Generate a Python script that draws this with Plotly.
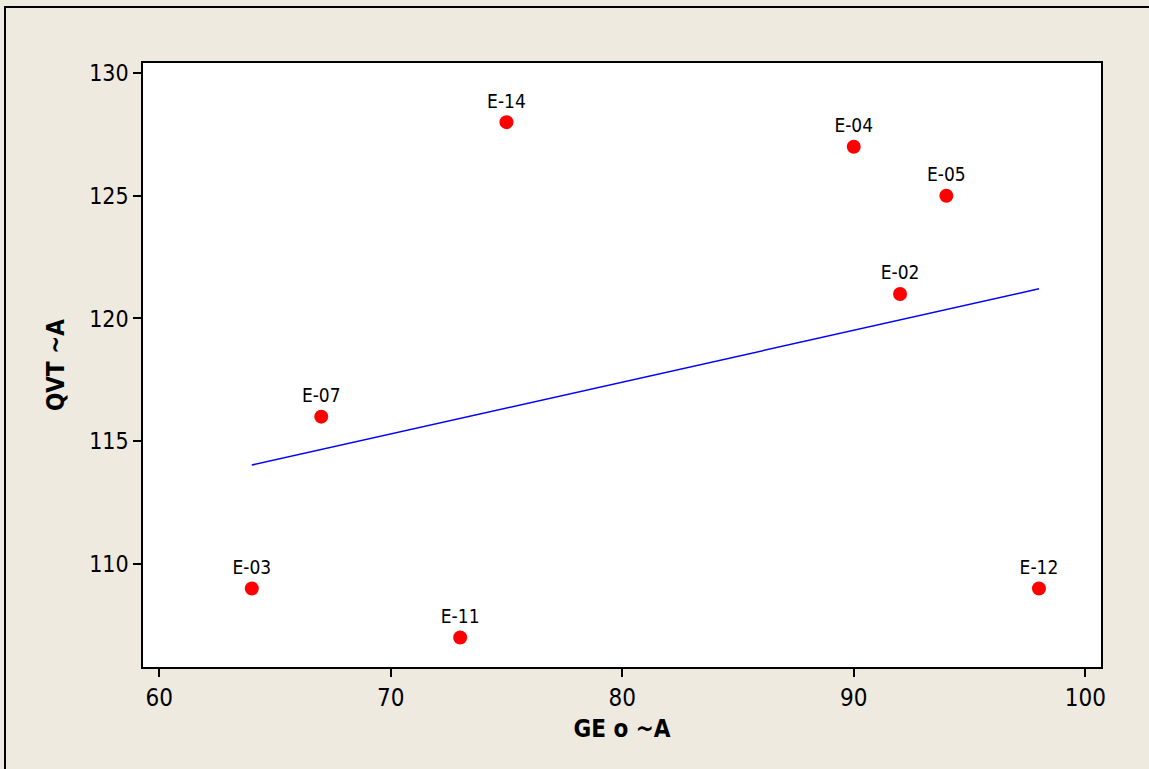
import numpy as np
import plotly.graph_objects as go

labels = ["E-03", "E-07", "E-11", "E-14", "E-04", "E-02", "E-05", "E-12"]
x_vals = [64, 67, 73, 75, 90, 92, 94, 98]
y_vals = [109, 116, 107, 128, 127, 121, 125, 109]

x_ticks = [60, 70, 80, 90, 100]
y_ticks = [110, 115, 120, 125, 130]

slope, intercept = np.polyfit(x_vals, y_vals, 1)
fit_x = [min(x_vals), max(x_vals)]
fit_y = [slope * v + intercept for v in fit_x]

FONT = "Tahoma, 'DejaVu Sans Condensed', 'DejaVu Sans', sans-serif"
BG = "#EEEAE0"

fig = go.Figure()
fig.add_trace(go.Scatter(x=fit_x, y=fit_y, mode="lines",
                         line=dict(color="#0000FF", width=1.5),
                         hoverinfo="skip", showlegend=False))
fig.add_trace(go.Scatter(x=x_vals, y=y_vals, mode="markers+text",
                         text=labels, textposition="top center",
                         textfont=dict(family=FONT, size=19, color="black"),
                         marker=dict(color="#FF0000", size=14),
                         showlegend=False))

L, R, T, B = 143, 1149 - 1101, 63, 769 - 667
W, H = 1149 - L - R, 769 - T - B

fig.add_shape(type="rect", xref="paper", yref="paper",
              x0=(5 - L) / W, x1=1.2, y0=-0.3, y1=(769 - B - 7) / H,
              line=dict(color="black", width=2), fillcolor="rgba(0,0,0,0)",
              layer="below")

fig.update_layout(
    width=1149, height=769,
    margin=dict(l=L, r=R, t=T, b=B),
    paper_bgcolor=BG, plot_bgcolor="white",
    font=dict(family=FONT, color="black"),
    xaxis=dict(range=[59.30, 100.68], tickvals=x_ticks, ticks="outside",
               ticklen=8, tickwidth=1.5, tickcolor="black",
               showline=True, linecolor="black", linewidth=1.5, mirror=True,
               showgrid=False, zeroline=False,
               tickfont=dict(size=24, family=FONT),
               title=dict(text="<b>GE o ~A</b>", font=dict(size=24, family=FONT), standoff=10)),
    yaxis=dict(range=[105.80, 130.41], tickvals=y_ticks, ticks="outside",
               ticklen=8, tickwidth=1.5, tickcolor="black",
               showline=True, linecolor="black", linewidth=1.5, mirror=True,
               showgrid=False, zeroline=False,
               tickfont=dict(size=23, family=FONT),
               title=dict(text="<b>QVT ~A</b>", font=dict(size=24, family=FONT), standoff=18)),
)

fig.write_html("out.html")
